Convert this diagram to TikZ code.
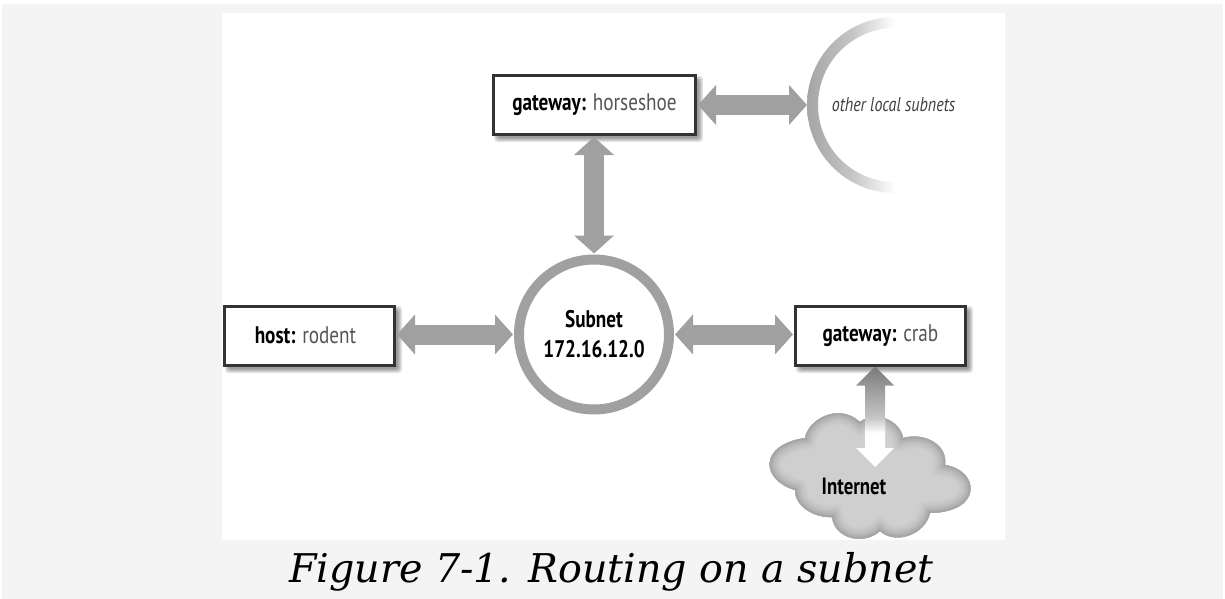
\documentclass[tikz,border=0pt]{standalone}
\usepackage{fontspec}
\usetikzlibrary{arrows.meta,calc}
\setmainfont{DejaVu Serif}
\newfontfamily\labfont[FakeStretch=0.8]{PT Sans}
\definecolor{pagebg}{HTML}{F4F4F4}
\definecolor{arrowgray}{HTML}{A0A0A0}
\definecolor{boxline}{HTML}{333333}
\definecolor{lighttext}{HTML}{555555}
\tikzset{
  boxnode/.style={draw=boxline,line width=3pt,fill=white,outer sep=0pt,inner sep=0pt,font=\labfont\fontsize{24}{26}\selectfont},
  softshadow/.style={fill=black,fill opacity=0.09,draw=none,rounded corners=3pt},
  bothway/.style={draw=arrowgray,line width=20pt,{Triangle[length=18pt,width=39pt]}-{Triangle[length=18pt,width=39pt]}},
}
\newcommand{\softbox}[4]{%
  \foreach \e in {-1,0,1,2,3}{
    \fill[softshadow] (#1+4-\e,#2+4-\e) rectangle (#3+4+\e,#4+4+\e);
  }}
\newcommand{\gw}[1]{{\bfseries #1}}
\newcommand{\lt}[1]{\textcolor{lighttext}{#1}}
\begin{document}
\begin{tikzpicture}[x=1pt,y=-1pt]
\useasboundingbox (0,0) rectangle (1225,599);
\fill[white] (0,0) rectangle (1225,599);
\fill[pagebg] (2,4) rectangle (1223,599);
\fill[white] (222,13) rectangle (1005,540);

% crescent
\path[even odd rule,left color=arrowgray!95!white,right color=white,middle color=arrowgray!62!white]
  (895,17) arc[start angle=-90,end angle=-270,radius=88]
  -- (895,182) arc[start angle=-270,end angle=-90,radius=77] -- cycle;
\node[inner sep=0pt,font=\labfont\itshape\fontsize{20}{24}\selectfont,text=black!75] (other) at (893.5,105) {other local subnets};
\coordinate (crescent) at (807,105);

% shadows
\softbox{493}{75}{696}{135}
\softbox{224}{305}{395}{366}
\softbox{795}{305}{966}{366}

% boxes
\node[boxnode,minimum width=202pt,minimum height=58pt] (horseshoe) at (594.5,105) {\gw{gateway:} \lt{horseshoe}};
\node[boxnode,minimum width=170pt,minimum height=59pt] (rodent) at (309.5,335.5) {\gw{host:} \lt{rodent}\kern8pt};
\node[boxnode,minimum width=170pt,minimum height=59pt] (crab) at (880.5,335.5) {\gw{gateway:} \lt{crab}};

% subnet circle
\node[circle,draw=arrowgray,line width=10pt,fill=white,outer sep=0pt,minimum size=150pt,inner sep=0pt,align=center,font=\labfont\bfseries\fontsize{24}{30}\selectfont] (subnet) at (594,334.5) {Subnet\\172.16.12.0};

% connectors
\draw[bothway] ([xshift=2.5pt]horseshoe.east) -- (crescent);
\draw[bothway] ([yshift=-3pt]subnet.north |- horseshoe.south) -- ([yshift=6pt]subnet.north);
\draw[bothway] ([xshift=2.5pt]rodent.east |- subnet.west) -- ([xshift=-6pt]subnet.west);
\draw[bothway] ([xshift=6pt]subnet.east) -- ([xshift=-2.5pt]crab.west |- subnet.east);

% cloud
\def\cloudpath{(805,438) .. controls (808,420) and (838,402) .. (860,422)
  .. controls (875,410) and (900,420) .. (903,438)
  .. controls (925,432) and (948,445) .. (945,465)
  .. controls (979,470) and (984,512) .. (930,513)
  .. controls (925,535) and (895,545) .. (880,531)
  .. controls (865,545) and (835,540) .. (832,517)
  .. controls (815,518) and (795,507) .. (795,490)
  .. controls (761,480) and (758,445) .. (805,438) -- cycle}
\fill[black!19] \cloudpath;
\begin{scope}
  \clip \cloudpath;
  \foreach \w/\c in {24/20,20/22,16/24,12/27,8/30,4/35}{
    \draw[line width=\w pt,black!\c] \cloudpath;
  }
\end{scope}
\node[inner sep=0pt,font=\labfont\bfseries\fontsize{23.5}{26}\selectfont,text=black] (internet) at (854,486) {Internet};
\coordinate (cloudtip) at (875,467);

% crab - cloud arrow: dark up-arrow fading into a white down-arrow
\shade[top color=black!52,bottom color=black!22]
  ($(crab.south)+(-5.5,1.5)$) -- ++(19,19) -- ++(-9,0) -- ++(0,33) -- ++(-20,0) -- ++(0,-33) -- ++(-9,0) -- cycle;
\fill[white]
  (cloudtip) -- ++(19,-19) -- ++(-9,0) -- ++(0,-30) -- ++(-20,0) -- ++(0,30) -- ++(-9,0) -- cycle;
\shade[top color=black!22,bottom color=white] ($(cloudtip)+(-10,-49)$) rectangle ($(cloudtip)+(10,-34)$);

% caption
\node[inner sep=0pt,font=\itshape\fontsize{39.6}{42}\selectfont,text=black] (caption) at (611.5,572) {Figure 7-1. Routing on a subnet};
\end{tikzpicture}
\end{document}
